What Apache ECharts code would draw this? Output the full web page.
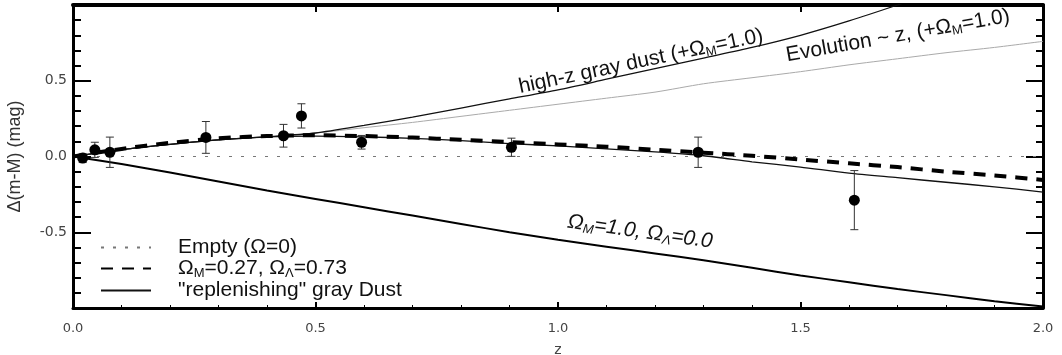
<!DOCTYPE html>
<html>
<head>
<meta charset="utf-8">
<script src="https://cdn.jsdelivr.net/npm/echarts@6/dist/echarts.min.js"></script>
<style>
  html, body { margin: 0; padding: 0; background: #fff; }
  #chart { width: 1062px; height: 355px; }
</style>
</head>
<body>
<div id="chart"></div>
<script>
// Redshift grid shared by the model curves
const zSteps = [0.0, 0.1, 0.2, 0.3, 0.4, 0.5, 0.6, 0.7, 0.8, 0.9, 1.0,
                1.1, 1.2, 1.3, 1.4, 1.5, 1.6, 1.7, 1.8, 1.9, 2.0];

// Model curves, Δ(m-M) relative to an empty universe (mag)
const lcdm            = [0, 0.05, 0.09, 0.12, 0.135, 0.14, 0.135, 0.125, 0.11, 0.095, 0.08,
                         0.065, 0.045, 0.025, 0.005, -0.02, -0.045, -0.07, -0.10, -0.125, -0.155];
const replenishDust   = [0, 0.045, 0.08, 0.11, 0.13, 0.135, 0.13, 0.12, 0.105, 0.085, 0.07,
                         0.05, 0.03, 0.005, -0.035, -0.07, -0.11, -0.14, -0.17, -0.20, -0.235];
const omegaM1         = [0, -0.05, -0.105, -0.165, -0.225, -0.28, -0.335, -0.39, -0.445, -0.50, -0.55,
                         -0.595, -0.64, -0.685, -0.735, -0.785, -0.83, -0.875, -0.915, -0.955, -0.99];
const highZDust       = [0, 0.045, 0.08, 0.11, 0.13, 0.155, 0.205, 0.26, 0.32, 0.38, 0.44,
                         0.51, 0.58, 0.65, 0.72, 0.80, 0.895, 1.0, 1.11, 1.22, 1.33];
const evolution       = [0, 0.045, 0.08, 0.11, 0.13, 0.155, 0.19, 0.225, 0.265, 0.305, 0.345,
                         0.385, 0.425, 0.48, 0.52, 0.56, 0.605, 0.645, 0.685, 0.72, 0.76];

// Binned supernova residuals
const snZ   = [0.02, 0.045, 0.076, 0.274, 0.434, 0.471, 0.595, 0.904, 1.289, 1.611];
const snDm  = [-0.01, 0.044, 0.028, 0.126, 0.137, 0.268, 0.094, 0.061, 0.028, -0.288];
const snErr = [0.03, 0.05, 0.10, 0.105, 0.075, 0.08, 0.045, 0.06, 0.10, 0.195];

// Axis ranges and ticks
const zRange = [0, 2];
const zTickStep = 0.5;
const dmRange = [-1, 1];
const dmTickStep = 0.5;

const NAME_EMPTY = 'Empty (Ω=0)';
const NAME_LCDM = 'ΩM=0.27, ΩΛ=0.73';
const NAME_DUST = '"replenishing" gray Dust';

const SANS = '"Liberation Sans", Arial, Helvetica, sans-serif';
const TICKFONT = '"DejaVu Sans", sans-serif';

const pairs = ys => zSteps.map((z, i) => [z, ys[i]]);

const chart = echarts.init(document.getElementById('chart'));

const richTokens = {
  t: { fontSize: 21, fontFamily: SANS, color: '#111', lineHeight: 23 },
  s: { fontSize: 13, fontFamily: SANS, color: '#111', lineHeight: 23, verticalAlign: 'bottom' }
};

// Line-only series: the point style is transparent so legend keys show just the stroke
function lineSeries(name, ys, style, z) {
  return {
    name, type: 'line', data: pairs(ys), symbol: 'none', smooth: 0.25,
    lineStyle: style, itemStyle: { color: 'transparent', borderWidth: 0 },
    z: z || 2, silent: true, clip: true
  };
}

const axisBox = { show: true, onZero: false, lineStyle: { color: '#000', width: 3 } };

chart.setOption({
  animation: false,
  backgroundColor: '#fff',
  grid: { left: 73, right: 19, top: 5, bottom: 47, containLabel: false, outerBoundsMode: 'none' },
  legend: {
    orient: 'vertical',
    left: 95, top: 232,
    itemWidth: 50, itemHeight: 14, itemGap: 0,
    data: [NAME_EMPTY, NAME_LCDM, NAME_DUST],
    selectedMode: false,
    itemStyle: { color: 'transparent', borderWidth: 0 },
    formatter: name => {
      if (name === NAME_LCDM) return '{t|Ω}{s|M}{t|=0.27, Ω}{s|Λ}{t|=0.73}';
      return '{t|' + name + '}';
    },
    textStyle: { padding: [0, 0, 0, 22], rich: richTokens }
  },
  xAxis: [
    {
      type: 'value', min: zRange[0], max: zRange[1], interval: zTickStep, position: 'bottom',
      axisLine: axisBox,
      axisTick: { inside: true, length: 6, lineStyle: { color: '#000', width: 2 } },
      minorTick: { show: true, splitNumber: 5, length: 3, lineStyle: { color: '#000', width: 1 } },
      splitLine: { show: false },
      axisLabel: { formatter: v => v.toFixed(1), fontFamily: TICKFONT, fontSize: 13, color: '#444', margin: 14 },
      name: 'z', nameLocation: 'middle', nameGap: 35,
      nameTextStyle: { fontFamily: TICKFONT, fontSize: 14, color: '#444' }
    },
    {
      type: 'value', min: zRange[0], max: zRange[1], interval: zTickStep, position: 'top',
      axisLine: Object.assign({}, axisBox, { lineStyle: { color: '#000', width: 4 } }),
      axisTick: { inside: true, length: 7, lineStyle: { color: '#000', width: 2 } },
      splitLine: { show: false }, axisLabel: { show: false }
    }
  ],
  yAxis: [
    {
      type: 'value', min: dmRange[0], max: dmRange[1], interval: dmTickStep, position: 'left',
      axisLine: axisBox,
      axisTick: { inside: true, length: 18, lineStyle: { color: '#000', width: 2 } },
      minorTick: { show: true, splitNumber: 5, length: 8, lineStyle: { color: '#000', width: 2 } },
      splitLine: { show: false },
      axisLabel: {
        formatter: v => (Math.abs(v) >= 1 ? '' : v.toFixed(1)),
        fontFamily: TICKFONT, fontSize: 14, color: '#444', margin: 6
      },
      name: 'Δ(m-M) (mag)', nameLocation: 'middle', nameRotate: 90, nameGap: 49,
      nameTextStyle: { fontFamily: SANS, fontSize: 18, color: '#333' }
    },
    {
      type: 'value', min: dmRange[0], max: dmRange[1], interval: dmTickStep, position: 'right',
      axisLine: axisBox,
      axisTick: { inside: true, length: 17, lineStyle: { color: '#000', width: 2 } },
      minorTick: { show: true, splitNumber: 5, length: 7, lineStyle: { color: '#000', width: 2 } },
      splitLine: { show: false }, axisLabel: { show: false }
    }
  ],
  series: [
    {
      name: NAME_EMPTY, type: 'line', data: [[zRange[0], 0], [zRange[1], 0]], symbol: 'none',
      lineStyle: { color: '#777', width: 1, type: [3, 9] },
      itemStyle: { color: 'transparent', borderWidth: 0 }, z: 1, silent: true
    },
    lineSeries('ΩM=1.0', omegaM1, { color: '#000', width: 2 }),
    lineSeries('Evolution', evolution, { color: '#aaa', width: 1 }),
    lineSeries('high-z gray dust', highZDust, { color: '#111', width: 1.3 }),
    lineSeries(NAME_DUST, replenishDust, { color: '#111', width: 1.3 }),
    lineSeries(NAME_LCDM, lcdm, { color: '#000', width: 4, type: [12, 9] }, 3),
    {
      name: 'error', type: 'custom', z: 4, silent: true,
      data: snZ.map((z, i) => [z, snDm[i] - snErr[i], snDm[i] + snErr[i]]),
      encode: { x: 0, y: [1, 2] },
      renderItem: (params, api) => {
        const top = api.coord([api.value(0), api.value(2)]);
        const bot = api.coord([api.value(0), api.value(1)]);
        const w = 4;
        const st = { stroke: '#333', lineWidth: 1 };
        return {
          type: 'group',
          children: [
            { type: 'line', shape: { x1: top[0], y1: top[1], x2: bot[0], y2: bot[1] }, style: st },
            { type: 'line', shape: { x1: top[0] - w, y1: top[1], x2: top[0] + w, y2: top[1] }, style: st },
            { type: 'line', shape: { x1: bot[0] - w, y1: bot[1], x2: bot[0] + w, y2: bot[1] }, style: st }
          ]
        };
      }
    },
    {
      name: 'SNe', type: 'scatter', z: 5, silent: true,
      data: snZ.map((z, i) => [z, snDm[i]]),
      symbol: 'circle', symbolSize: 11,
      itemStyle: { color: '#000', opacity: 1 }
    }
  ]
});

// Curve annotations, anchored in data space and rotated along each curve
const curveLabels = [
  { at: [1.171, 0.627], deg: 12, italic: false,
    text: '{t|high-z gray dust (+Ω}{s|M}{t|=1.0)}' },
  { at: [1.701, 0.797], deg: 10, italic: false,
    text: '{t|Evolution ~ z, (+Ω}{s|M}{t|=1.0)}' },
  { at: [1.169, -0.497], deg: -8, italic: true,
    text: '{t|Ω}{s|M}{t|=1.0, Ω}{s|Λ}{t|=0.0}' }
];

const graphics = curveLabels.map(lab => {
  const p = chart.convertToPixel({ gridIndex: 0 }, lab.at);
  const style = lab.italic ? 'italic' : 'normal';
  return {
    type: 'text', x: p[0], y: p[1], rotation: lab.deg * Math.PI / 180, z: 10,
    style: {
      text: lab.text, align: 'center', verticalAlign: 'middle',
      rich: {
        t: Object.assign({}, richTokens.t, { fill: '#111', fontStyle: style }),
        s: Object.assign({}, richTokens.s, { fill: '#111', fontStyle: style })
      }
    }
  };
});
chart.setOption({ graphic: graphics });
</script>
</body>
</html>
